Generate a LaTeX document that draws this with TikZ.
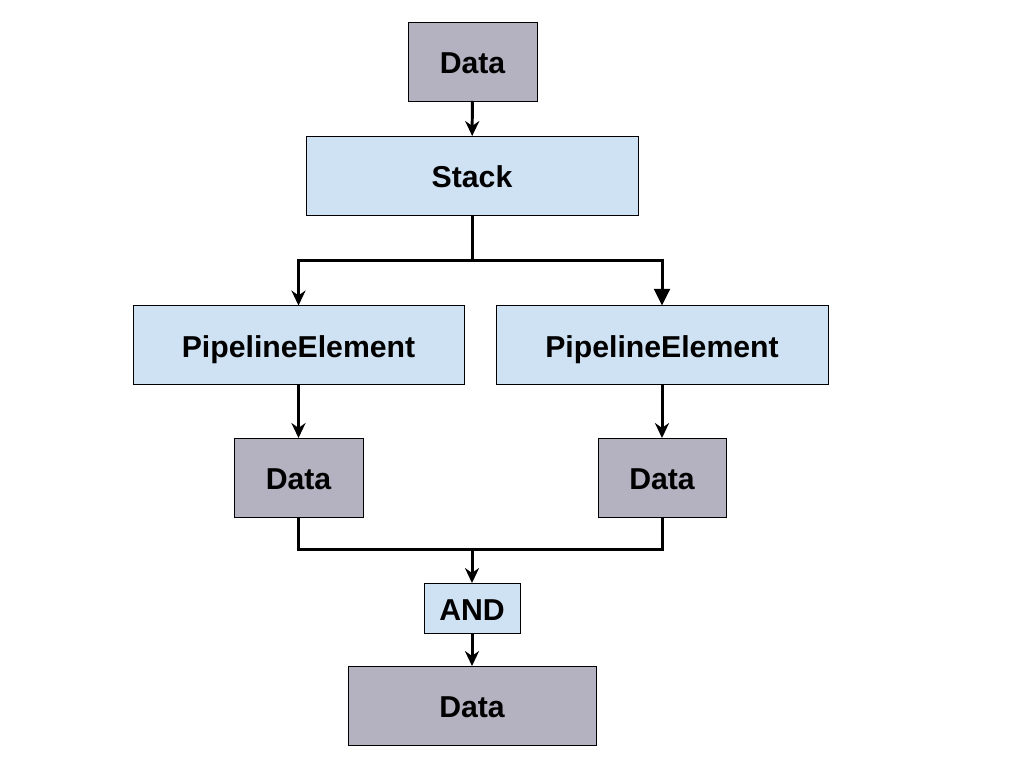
\documentclass[tikz,border=0pt]{standalone}
\usepackage{fontspec}
\setmainfont{Liberation Sans}
\usetikzlibrary{arrows.meta}
\definecolor{datagrey}{RGB}{180,178,192}
\definecolor{stepblue}{RGB}{207,226,243}

\begin{document}
\begin{tikzpicture}[x=0.02cm, y=-0.02cm]
  \tikzset{every node/.style = {draw = black,
                                line width = 0.5pt,
                                inner sep = 0,
                                outer sep = 0,
                                text height = 14pt,
                                text depth = 0pt,
                                minimum height = 1.58cm,
                                font = \fontsize{17.2}{20}\selectfont\bfseries}}
\tikzset{DataBox/.style = {fill = datagrey}}
\tikzset{StepBox/.style = {fill = stepblue}}
\tikzset{Conn/.style = {line width = 1.7pt, -{Stealth[length=8.5pt, width=8pt]}}}
\tikzset{ConnBig/.style = {line width = 1.7pt, -{Triangle[length=9.5pt, width=9pt]}}}
\tikzset{Plain/.style = {line width = 1.7pt}}
\useasboundingbox (0,0) rectangle (1024,768);

% boxes
\node[DataBox, minimum width = 2.58cm] (data0) at (472.5,61.5) {Data};
\node[StepBox, minimum width = 6.64cm] (stack) at (472,175.5) {Stack};
\node[StepBox, minimum width = 6.62cm] (peL) at (298.5,345) {PipelineElement};
\node[StepBox, minimum width = 6.64cm] (peR) at (662,345) {PipelineElement};
\node[DataBox, minimum width = 2.58cm] (dataL) at (298.5,477.5) {Data};
\node[DataBox, minimum width = 2.56cm] (dataR) at (662,477.5) {Data};
\node[StepBox, minimum width = 1.92cm, minimum height = 1.0cm] (and) at (472,608) {AND};
\node[DataBox, minimum width = 4.96cm] (data1) at (472,705.5) {Data};

\coordinate (split) at (472,260);
\coordinate (join) at (472,549);

% connectors
\draw[Conn] (data0) -- (stack);
\draw[Plain] (stack.south) -- (split);
\draw[Conn] (split) -| (peL.north);
\draw[ConnBig] (split) -| (peR.north);
\draw[Conn] (peL) -- (dataL);
\draw[Conn] (peR) -- (dataR);
\draw[Plain] (dataL.south) |- (join);
\draw[Plain] (dataR.south) |- (join);
\draw[Conn] (join) -- (and.north);
\draw[Conn] (and) -- (data1);

\end{tikzpicture}
\end{document}
